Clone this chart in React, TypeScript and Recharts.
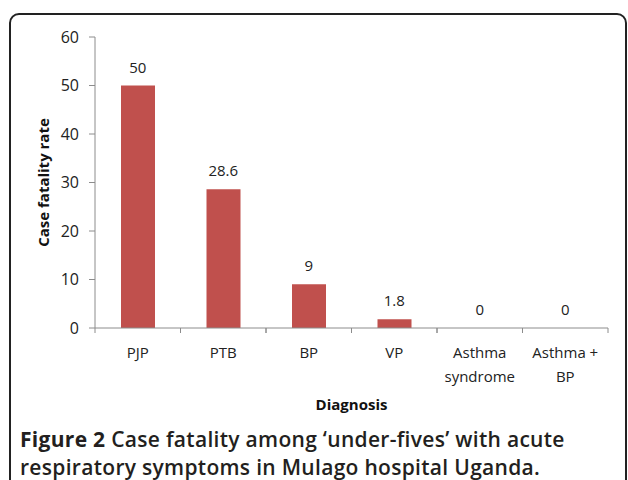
import { Bar, ComposedChart, LabelList, Line, XAxis, YAxis } from "recharts";

const categories = ["PJP", "PTB", "BP", "VP", "Asthma syndrome", "Asthma + BP"];
const categoryLines = [["PJP"], ["PTB"], ["BP"], ["VP"], ["Asthma", "syndrome"], ["Asthma +", "BP"]];
const fatalityRates = [50, 28.6, 9, 1.8, 0, 0];
const yTicks = [0, 10, 20, 30, 40, 50, 60];

const data = categories.map((name, i) => ({ name, rate: fatalityRates[i] }));

const FONT = '"Open Sans", "Liberation Sans", sans-serif';
const AXIS = "#8c8c8c";
const BAND = (608 - 95) / categories.length;

function CategoryTick({ x, y, payload }: any) {
  const lines = categoryLines[categories.indexOf(payload.value)] || [payload.value];
  return (
    <g>
      <line x1={x - BAND / 2} y1={y - 8} x2={x - BAND / 2} y2={y - 3} stroke={AXIS} />
      <line x1={x + BAND / 2} y1={y - 8} x2={x + BAND / 2} y2={y - 3} stroke={AXIS} />
      {lines.map((t, i) => (
        <text key={i} x={x} y={y + 22 + i * 24} textAnchor="middle" fill="#222" fontSize={15} fontFamily={FONT}>
          {t}
        </text>
      ))}
    </g>
  );
}

// labels hang off an invisible line so the zero values get one too
function ValueLabel({ x, y, value }: any) {
  return (
    <text x={x} y={y - 13} textAnchor="middle" fill="#222" fontSize={15} fontFamily={FONT}>
      {value}
    </text>
  );
}

export default function App() {
  return (
    <div style={{ position: "fixed", left: 0, top: 0, width: 628, height: 480, overflow: "hidden", background: "#fff" }}>
      <div
        style={{
          position: "absolute",
          left: 9,
          top: 13,
          width: 614,
          height: 500,
          border: "2px solid #222",
          borderRadius: 10,
        }}
      />
      <div style={{ position: "absolute", left: 0, top: 0 }}>
        <ComposedChart width={628} height={480} data={data} margin={{ top: 37, right: 20, left: 0, bottom: 0 }}>
          <XAxis
            dataKey="name"
            height={152}
            interval={0}
            tickLine={false}
            axisLine={{ stroke: AXIS }}
            tick={<CategoryTick />}
            label={{ value: "Diagnosis", position: "insideTop", offset: 71, fill: "#111", fontSize: 15, fontWeight: 700, fontFamily: FONT }}
          />
          <YAxis
            width={95}
            domain={[0, 60]}
            ticks={yTicks}
            interval={0}
            tickSize={6}
            tickMargin={10}
            tickLine={{ stroke: AXIS }}
            axisLine={{ stroke: AXIS }}
            tick={{ fill: "#222", fontSize: 16, fontFamily: FONT }}
            label={{
              value: "Case fatality rate",
              angle: -90,
              position: "insideLeft",
              offset: 44,
              textAnchor: "middle",
              fill: "#111",
              fontSize: 15,
              fontWeight: 700,
              fontFamily: FONT,
            }}
          />
          <Bar dataKey="rate" fill="#C0504D" barSize={34} isAnimationActive={false} />
          <Line dataKey="rate" stroke="none" dot={false} activeDot={false} legendType="none" isAnimationActive={false}>
            <LabelList dataKey="rate" content={<ValueLabel />} />
          </Line>
        </ComposedChart>
      </div>
      <div
        style={{
          position: "absolute",
          left: 20,
          top: 425,
          fontFamily: FONT,
          fontSize: 21,
          lineHeight: "28px",
          fontWeight: 600,
          color: "#231F20",
          whiteSpace: "nowrap",
          letterSpacing: 0.3,
        }}
      >
        <span style={{ fontWeight: 700 }}>Figure 2</span> Case fatality among ‘under-fives’ with acute
        <br />
        respiratory symptoms in Mulago hospital Uganda.
      </div>
    </div>
  );
}
